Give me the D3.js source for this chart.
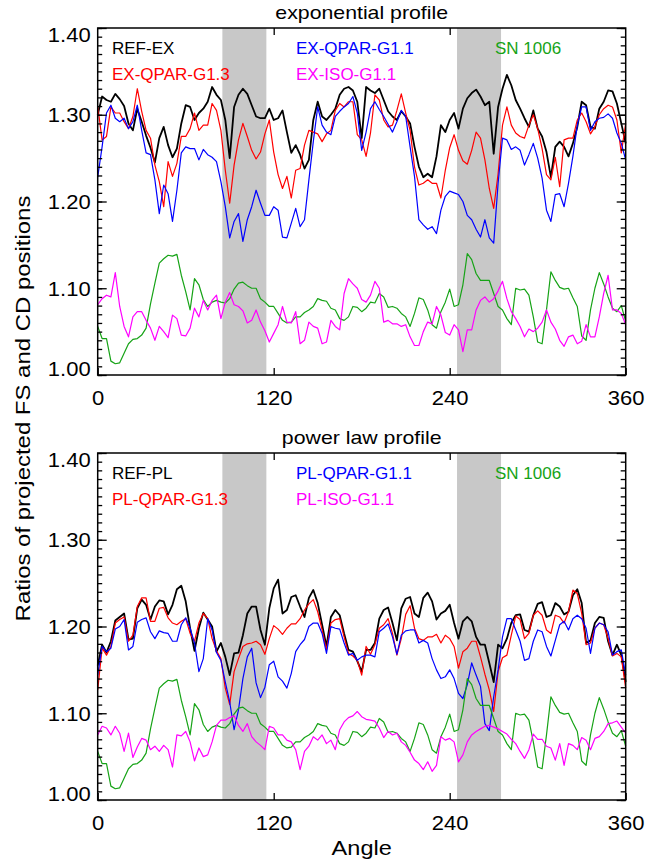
<!DOCTYPE html>
<html>
<head>
<meta charset="utf-8">
<script src="https://d3js.org/d3.v7.min.js"></script>
<style>
body { margin: 0; background: #fff; }
text { font-family: "Liberation Sans", Arial, Helvetica, sans-serif; }
</style>
</head>
<body>
<div class="ratios"></div>
<script>
// angles (deg) at which the curves were read, every 3 degrees
var angles = d3.range(0, 361, 3);

// exponential profile
var refEx = [1.300,1.321,1.317,1.315,1.324,1.318,1.310,1.290,1.282,1.307,
  1.292,1.276,1.262,1.245,1.273,1.286,1.265,1.251,1.261,1.290,
  1.311,1.309,1.294,1.302,1.307,1.315,1.332,1.323,1.317,1.294,
  1.250,1.309,1.323,1.330,1.324,1.311,1.298,1.296,1.296,1.307,
  1.294,1.296,1.305,1.280,1.256,1.265,1.254,1.238,1.248,1.294,
  1.315,1.298,1.294,1.300,1.307,1.323,1.330,1.332,1.328,1.315,
  1.273,1.332,1.328,1.325,1.330,1.317,1.304,1.298,1.294,1.304,
  1.298,1.290,1.263,1.240,1.228,1.232,1.228,1.252,1.288,1.280,
  1.294,1.302,1.284,1.307,1.319,1.325,1.329,1.321,1.311,1.315,
  1.255,1.309,1.330,1.346,1.334,1.317,1.307,1.296,1.286,1.305,
  1.284,1.275,1.257,1.228,1.263,1.269,1.263,1.252,1.267,1.286,
  1.315,1.311,1.286,1.284,1.307,1.315,1.328,1.327,1.313,1.290,
  1.267];
var exQpar13 = [1.310,1.271,1.275,1.309,1.302,1.302,1.292,1.284,1.298,1.330,
  1.304,1.282,1.273,1.242,1.223,1.194,1.246,1.229,1.244,1.275,
  1.275,1.284,1.302,1.282,1.288,1.288,1.313,1.305,1.282,1.236,
  1.198,1.242,1.271,1.290,1.275,1.259,1.249,1.257,1.278,1.294,
  1.257,1.231,1.215,1.229,1.204,1.236,1.238,1.265,1.282,1.280,
  1.278,1.269,1.278,1.282,1.305,1.313,1.309,1.315,1.315,1.277,
  1.271,1.252,1.279,1.323,1.317,1.294,1.286,1.288,1.305,1.324,
  1.302,1.282,1.240,1.219,1.221,1.225,1.221,1.221,1.204,1.236,
  1.262,1.277,1.259,1.247,1.243,1.259,1.280,1.273,1.248,1.215,
  1.192,1.232,1.288,1.309,1.288,1.279,1.275,1.273,1.288,1.300,
  1.284,1.261,1.231,1.225,1.251,1.217,1.271,1.273,1.273,1.294,
  1.302,1.292,1.278,1.286,1.300,1.307,1.311,1.309,1.294,1.256,
  1.290];
var exQpar11 = [1.228,1.263,1.302,1.311,1.296,1.292,1.296,1.284,1.292,1.311,
  1.282,1.256,1.254,1.225,1.186,1.219,1.209,1.177,1.213,1.256,
  1.263,1.261,1.261,1.248,1.260,1.254,1.251,1.246,1.223,1.194,
  1.158,1.177,1.186,1.154,1.179,1.194,1.213,1.198,1.184,1.184,
  1.194,1.190,1.159,1.158,1.175,1.192,1.171,1.179,1.225,1.269,
  1.309,1.288,1.280,1.277,1.298,1.304,1.309,1.313,1.321,1.302,
  1.259,1.280,1.307,1.315,1.306,1.298,1.289,1.280,1.292,1.305,
  1.298,1.263,1.229,1.179,1.173,1.168,1.171,1.163,1.190,1.206,
  1.212,1.210,1.208,1.200,1.184,1.179,1.168,1.159,1.179,1.158,
  1.152,1.221,1.273,1.271,1.260,1.263,1.259,1.242,1.254,1.267,
  1.250,1.227,1.190,1.177,1.208,1.209,1.194,1.221,1.252,1.288,
  1.309,1.309,1.282,1.292,1.296,1.297,1.301,1.296,1.279,1.267,
  1.248];
var exIso11 = [1.081,1.088,1.092,1.090,1.118,1.079,1.056,1.044,1.067,1.073,
  1.073,1.063,1.054,1.040,1.056,1.050,1.043,1.069,1.065,1.046,
  1.045,1.054,1.077,1.067,1.086,1.075,1.086,1.092,1.065,1.084,
  1.095,1.081,1.079,1.074,1.060,1.063,1.075,1.061,1.051,1.038,
  1.048,1.058,1.079,1.061,1.060,1.073,1.036,1.040,1.061,1.056,
  1.054,1.036,1.038,1.063,1.056,1.052,1.094,1.111,1.105,1.100,
  1.087,1.084,1.092,1.108,1.100,1.061,1.063,1.059,1.059,1.056,
  1.058,1.044,1.034,1.034,1.050,1.061,1.059,1.079,1.069,1.049,
  1.046,1.058,1.052,1.027,1.052,1.052,1.075,1.086,1.090,1.084,
  1.088,1.097,1.108,1.088,1.073,1.065,1.056,1.044,1.053,1.050,
  1.054,1.061,1.075,1.061,1.053,1.040,1.033,1.044,1.046,1.036,
  1.039,1.058,1.044,1.044,1.067,1.094,1.115,1.075,1.075,1.071,
  1.058];

// observed SN 1006 ratios (same in both panels)
var sn1006 = [1.056,1.042,1.042,1.016,1.013,1.014,1.025,1.036,1.041,1.042,
  1.046,1.054,1.082,1.106,1.129,1.134,1.138,1.137,1.139,1.115,
  1.096,1.075,1.111,1.104,1.087,1.079,1.084,1.086,1.084,1.083,
  1.088,1.099,1.106,1.107,1.103,1.100,1.100,1.088,1.084,1.079,
  1.079,1.071,1.063,1.060,1.061,1.067,1.067,1.072,1.075,1.079,
  1.088,1.086,1.085,1.077,1.075,1.065,1.063,1.067,1.079,1.078,
  1.073,1.077,1.084,1.083,1.094,1.090,1.078,1.079,1.077,1.071,
  1.067,1.056,1.071,1.089,1.087,1.075,1.058,1.054,1.073,1.084,
  1.099,1.079,1.081,1.104,1.140,1.133,1.117,1.109,1.109,1.109,
  1.094,1.079,1.075,1.065,1.058,1.100,1.098,1.099,1.092,1.067,
  1.038,1.036,1.075,1.119,1.109,1.101,1.099,1.100,1.089,1.079,
  1.045,1.040,1.075,1.100,1.118,1.105,1.090,1.077,1.073,1.080,
  1.062];

// power law profile
var refPl = [1.155,1.179,1.170,1.183,1.207,1.211,1.215,1.185,1.186,1.221,
  1.231,1.225,1.208,1.223,1.230,1.229,1.214,1.225,1.243,1.247,
  1.229,1.198,1.172,1.198,1.216,1.208,1.200,1.171,1.181,1.165,
  1.144,1.169,1.170,1.190,1.215,1.223,1.223,1.196,1.179,1.221,
  1.244,1.254,1.215,1.219,1.234,1.236,1.223,1.211,1.233,1.242,
  1.227,1.202,1.177,1.211,1.219,1.213,1.192,1.173,1.171,1.160,
  1.148,1.173,1.173,1.181,1.209,1.219,1.222,1.204,1.184,1.221,
  1.232,1.234,1.215,1.211,1.233,1.239,1.229,1.208,1.215,1.218,
  1.225,1.204,1.186,1.206,1.211,1.206,1.188,1.179,1.179,1.158,
  1.136,1.179,1.175,1.186,1.204,1.213,1.214,1.196,1.194,1.213,
  1.226,1.228,1.211,1.213,1.227,1.223,1.214,1.217,1.236,1.243,
  1.227,1.181,1.184,1.204,1.211,1.210,1.183,1.167,1.179,1.167,
  1.136];
var plQpar13 = [1.127,1.175,1.167,1.177,1.204,1.208,1.211,1.183,1.190,1.223,
  1.233,1.233,1.206,1.206,1.221,1.222,1.210,1.204,1.202,1.206,
  1.209,1.192,1.183,1.204,1.215,1.209,1.186,1.172,1.163,1.129,
  1.110,1.148,1.163,1.177,1.180,1.181,1.183,1.179,1.168,1.186,
  1.201,1.197,1.191,1.198,1.203,1.203,1.209,1.219,1.226,1.231,
  1.217,1.196,1.173,1.204,1.208,1.209,1.188,1.169,1.166,1.161,
  1.144,1.177,1.168,1.179,1.198,1.202,1.209,1.192,1.167,1.186,
  1.214,1.224,1.198,1.186,1.184,1.188,1.188,1.191,1.181,1.190,
  1.186,1.177,1.152,1.171,1.175,1.183,1.183,1.165,1.145,1.127,
  1.102,1.148,1.164,1.167,1.190,1.212,1.208,1.186,1.192,1.213,
  1.218,1.213,1.196,1.192,1.213,1.211,1.204,1.217,1.242,1.238,
  1.215,1.179,1.181,1.198,1.204,1.202,1.186,1.166,1.169,1.165,
  1.129];
var plQpar11 = [1.144,1.177,1.171,1.175,1.197,1.200,1.208,1.173,1.177,1.205,
  1.208,1.210,1.194,1.186,1.195,1.193,1.192,1.183,1.183,1.202,
  1.210,1.198,1.181,1.148,1.163,1.209,1.196,1.170,1.161,1.136,
  1.113,1.081,1.104,1.140,1.165,1.175,1.135,1.118,1.130,1.156,
  1.160,1.142,1.137,1.129,1.146,1.171,1.179,1.185,1.200,1.204,
  1.204,1.192,1.169,1.200,1.198,1.197,1.181,1.167,1.169,1.161,
  1.165,1.167,1.167,1.165,1.194,1.198,1.203,1.188,1.168,1.190,
  1.195,1.196,1.196,1.181,1.184,1.181,1.163,1.150,1.140,1.142,
  1.150,1.140,1.123,1.117,1.133,1.158,1.144,1.131,1.088,1.080,
  1.119,1.150,1.188,1.209,1.209,1.196,1.183,1.161,1.163,1.183,
  1.196,1.194,1.177,1.166,1.184,1.202,1.206,1.196,1.209,1.213,
  1.209,1.198,1.169,1.198,1.204,1.202,1.194,1.167,1.171,1.173,
  1.144];
var plIso11 = [1.075,1.085,1.083,1.075,1.085,1.077,1.056,1.077,1.049,1.061,
  1.071,1.069,1.058,1.062,1.056,1.063,1.058,1.038,1.075,1.074,
  1.079,1.067,1.045,1.060,1.050,1.052,1.067,1.086,1.092,1.092,
  1.095,1.097,1.086,1.079,1.088,1.073,1.067,1.063,1.058,1.085,
  1.083,1.075,1.075,1.069,1.067,1.058,1.035,1.056,1.062,1.073,
  1.069,1.075,1.065,1.069,1.058,1.081,1.090,1.095,1.097,1.102,
  1.096,1.093,1.092,1.091,1.083,1.072,1.079,1.075,1.077,1.067,
  1.063,1.055,1.046,1.042,1.035,1.044,1.033,1.040,1.073,1.069,
  1.071,1.067,1.044,1.052,1.067,1.075,1.079,1.082,1.085,1.086,
  1.084,1.082,1.079,1.076,1.070,1.065,1.056,1.048,1.058,1.076,
  1.070,1.070,1.062,1.060,1.046,1.065,1.040,1.065,1.063,1.058,
  1.072,1.069,1.058,1.071,1.073,1.079,1.088,1.089,1.091,1.084,
  1.077];

var topLabels = ["REF-EX", "EX-QPAR-G1.3", "EX-QPAR-G1.1", "EX-ISO-G1.1", "SN 1006"];
var bottomLabels = ["REF-PL", "PL-QPAR-G1.3", "PL-QPAR-G1.1", "PL-ISO-G1.1", "SN 1006"];
var yTicks = [1.00, 1.10, 1.20, 1.30, 1.40];
var xTicks = [0, 120, 240, 360];
var bands = [[85, 115], [245, 275]];   // shaded angle ranges

// colours in label order
var colors = ["#000000", "#ff0000", "#0000ff", "#ff00ff", "#16a316"];

// layout
var width = 668, height = 865;
var plotLeft = 97.7, plotRight = 625.7, panelH = 347;
var legendX = [112, 112, 296, 296, 495];
var legendRow = [0, 1, 0, 1, 0];

var svg = d3.select(".ratios")
    .append("svg")
    .attr("width", width)
    .attr("height", height);

var x = d3.scaleLinear().domain([0, 360]).range([plotLeft, plotRight]);

// widen text a little, the original lettering is stretched sideways
function stretch(sel, k) {
  sel.each(function() {
    var len = this.getComputedTextLength();
    d3.select(this).attr("textLength", len * k).attr("lengthAdjust", "spacingAndGlyphs");
  });
}

function drawPanel(top, title, labels, curves) {
  var y = d3.scaleLinear().domain([1.00, 1.40]).range([top + panelH, top]);
  var g = svg.append("g");

  // shaded bands
  g.selectAll(".band")
      .data(bands)
      .enter().append("rect")
      .attr("x", function(d) { return x(d[0]); })
      .attr("width", function(d) { return x(d[1]) - x(d[0]); })
      .attr("y", top)
      .attr("height", panelH)
      .style("fill", "#c8c8c8");

  // curves: black, red, blue, green, magenta
  var order = [0, 1, 2, 4, 3];
  order.forEach(function(i) {
    g.append("path")
        .datum(curves[i])
        .attr("fill", "none")
        .attr("stroke", colors[i])
        .attr("stroke-width", i == 0 ? 1.8 : 1.2)
        .attr("stroke-linejoin", "round")
        .attr("d", d3.line()
            .x(function(d, j) { return x(angles[j]); })
            .y(function(d) { return y(d); }));
  });

  // minor + major ticks, left and right, pointing inwards
  var minor = d3.range(100, 141).map(function(d) { return d / 100; });
  g.append("g")
      .attr("transform", "translate(" + plotLeft + ",0)")
      .call(d3.axisLeft(y).tickValues(minor).tickSize(-4.5).tickFormat(""));
  g.append("g")
      .attr("transform", "translate(" + plotRight + ",0)")
      .call(d3.axisRight(y).tickValues(minor).tickSize(-5).tickFormat(""));
  g.append("g")
      .attr("transform", "translate(" + plotRight + ",0)")
      .call(d3.axisRight(y).tickValues(yTicks).tickSize(-9).tickFormat(""));

  var yAxis = g.append("g")
      .attr("class", "yaxis")
      .attr("transform", "translate(" + plotLeft + ",0)")
      .call(d3.axisLeft(y).tickValues(yTicks).tickSize(-9).tickPadding(7)
          .tickFormat(d3.format(".2f")));
  yAxis.selectAll("text")
      .attr("dy", function(d) { return d == 1.00 ? "0em" : (d == 1.40 ? "0.66em" : "0.36em"); })
      .style("font-size", "20px")
      .style("fill", "#000")
      .call(stretch, 1.1);

  // x ticks
  g.append("g")
      .attr("transform", "translate(0," + top + ")")
      .call(d3.axisTop(x).tickValues([120, 240]).tickSize(-7).tickFormat(""));
  var xAxis = g.append("g")
      .attr("transform", "translate(0," + (top + panelH) + ")")
      .call(d3.axisBottom(x).tickValues(xTicks).tickSize(-7).tickPadding(16));
  xAxis.selectAll("text")
      .style("font-size", "20px")
      .style("fill", "#000")
      .call(stretch, 1.1);

  g.selectAll(".domain").remove();
  g.selectAll(".tick line").attr("stroke", "#000").attr("stroke-width", 1.3);

  // frame
  g.append("rect")
      .attr("x", plotLeft).attr("y", top)
      .attr("width", plotRight - plotLeft).attr("height", panelH)
      .attr("fill", "none").attr("stroke", "#000").attr("stroke-width", 1.5);

  // title
  g.append("text")
      .attr("x", (plotLeft + plotRight) / 2)
      .attr("y", top - 9.5)
      .attr("text-anchor", "middle")
      .style("font-size", "19px")
      .text(title)
      .call(stretch, 1.12);

  // legend
  labels.forEach(function(lab, i) {
    g.append("text")
        .attr("x", legendX[i])
        .attr("y", top + 26 + legendRow[i] * 25.8)
        .style("font-size", "17px")
        .style("fill", colors[i])
        .text(lab);
  });
}

drawPanel(28, "exponential profile", topLabels, [refEx, exQpar13, exQpar11, exIso11, sn1006]);
drawPanel(453, "power law profile", bottomLabels, [refPl, plQpar13, plQpar11, plIso11, sn1006]);

// axis titles
svg.append("text")
    .attr("transform", "translate(30,408.5) rotate(-90)")
    .attr("text-anchor", "middle")
    .style("font-size", "21px")
    .text("Ratios of projected FS and CD positions")
    .call(stretch, 1.14);

svg.append("text")
    .attr("x", (plotLeft + plotRight) / 2)
    .attr("y", 855)
    .attr("text-anchor", "middle")
    .style("font-size", "21px")
    .text("Angle")
    .call(stretch, 1.12);
</script>
</body>
</html>
